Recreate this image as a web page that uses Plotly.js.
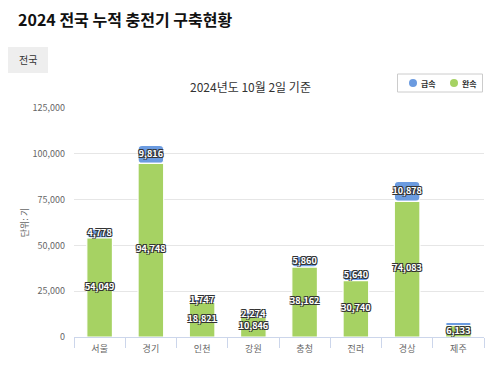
<!DOCTYPE html>
<html>
<head>
<meta charset="utf-8">
<script src="https://cdn.plot.ly/plotly-3.0.1.min.js"></script>
<style>html,body{margin:0;padding:0;background:#fff;}#chart{width:497px;height:381px;}</style>
</head>
<body>
<div id="chart"></div>
<script>
const regions = ['서울', '경기', '인천', '강원', '충청', '전라', '경상', '제주'];
const slowChargers = [54049, 94748, 18821, 10846, 38162, 30740, 74083, 6133];
const fastChargers = [4778, 9816, 1747, 2274, 5860, 5640, 10878, 1900];
const fastLabelShown = [true, true, true, true, true, true, true, false];
const yTicks = [0, 25000, 50000, 75000, 100000, 125000];
const seriesNames = ['급속', '완속'];

const FONT = '"Noto Sans CJK KR", "Noto Sans", sans-serif';
const BLUE = '#6b9be0';
const GREEN = '#a6d263';
const fmt = v => v.toLocaleString('en-US');

const W = 497, H = 381;
const M = {l: 74, r: 13, t: 108, b: 44};
const PW = W - M.l - M.r, PH = H - M.t - M.b;
const px = x => (x - M.l) / PW;
const py = y => (M.t + PH - y) / PH;

const outline = '-1px -1px 0 #333, 1px -1px 0 #333, -1px 1px 0 #333, 1px 1px 0 #333';
const labelFont = {family: FONT, size: 9, color: '#ffffff', shadow: outline, weight: 700};

const traces = [
  {
    type: 'bar', name: seriesNames[0], x: regions, y: fastChargers, base: slowChargers,
    marker: {color: BLUE, line: {color: '#ffffff', width: 1.2}},
    showlegend: false, hoverinfo: 'x+y'
  },
  {
    type: 'bar', name: seriesNames[1], x: regions, y: slowChargers,
    marker: {color: GREEN, line: {color: '#ffffff', width: 1.2}},
    showlegend: false, hoverinfo: 'x+y'
  },
  {
    type: 'scatter', mode: 'text', x: regions,
    y: slowChargers.map(v => v / 2),
    text: slowChargers.map(fmt),
    textfont: labelFont,
    showlegend: false, hoverinfo: 'skip'
  },
  {
    type: 'scatter', mode: 'text', x: regions,
    y: slowChargers.map((v, i) => v + fastChargers[i] / 2),
    text: fastChargers.map((v, i) => fastLabelShown[i] ? fmt(v) : ''),
    textfont: labelFont,
    showlegend: false, hoverinfo: 'skip'
  }
];

function dot(cx, cy, color) {
  return {type: 'circle', xref: 'paper', yref: 'paper', xsizemode: 'pixel', ysizemode: 'pixel',
    xanchor: px(cx), yanchor: py(cy), x0: -4, x1: 4, y0: -4, y1: 4,
    fillcolor: color, line: {width: 0}};
}

const layout = {
  width: W, height: H,
  margin: M,
  paper_bgcolor: '#ffffff', plot_bgcolor: '#ffffff',
  font: {family: FONT, color: '#666666', size: 9},
  barmode: 'overlay',
  bargap: 0.5,
  barcornerradius: 4,
  showlegend: false,
  title: {
    text: '2024 전국 누적 충전기 구축현황',
    x: 18 / W, xanchor: 'left', xref: 'container',
    y: 1 - 20 / H, yanchor: 'middle', yref: 'container',
    font: {family: FONT, size: 16, color: '#111111', weight: 700}
  },
  xaxis: {
    type: 'category', categoryorder: 'array', categoryarray: regions,
    showline: true, linecolor: '#ccd6eb', linewidth: 1,
    ticks: 'outside', tickson: 'boundaries', ticklen: 10, tickcolor: '#ccd6eb',
    tickfont: {size: 9, color: '#666666'},
    ticklabelstandoff: 3,
    showgrid: false, zeroline: false, fixedrange: true
  },
  yaxis: {
    range: [0, 125000], tickvals: yTicks, tickformat: ',d',
    gridcolor: '#e6e6e6', gridwidth: 1, zeroline: false, showline: false,
    tickfont: {size: 9, color: '#666666'},
    ticklabelstandoff: 8,
    title: {text: '단위: 기', font: {size: 9, color: '#666666'}, standoff: 2},
    fixedrange: true
  },
  shapes: [
    {type: 'rect', xref: 'paper', yref: 'paper', x0: px(8), x1: px(48), y0: py(73), y1: py(47),
     fillcolor: '#eeeeee', line: {width: 0}, layer: 'below'},
    {type: 'rect', xref: 'paper', yref: 'paper', x0: px(397.5), x1: px(482.5), y0: py(92), y1: py(74),
     fillcolor: '#ffffff', line: {width: 1, color: '#cccccc'}},
    dot(413, 83, BLUE),
    dot(454, 83, GREEN)
  ],
  annotations: [
    {text: '전국', xref: 'paper', yref: 'paper', x: px(28), y: py(60), xanchor: 'center', yanchor: 'middle',
     showarrow: false, font: {size: 10, color: '#333333'}},
    {text: '2024년도 10월 2일 기준', xref: 'paper', yref: 'paper', x: px(250), y: py(86), xanchor: 'center', yanchor: 'middle',
     showarrow: false, font: {size: 12, color: '#333333'}},
    {text: seriesNames[0], xref: 'paper', yref: 'paper', x: px(419), y: py(83), xanchor: 'left', yanchor: 'middle',
     showarrow: false, font: {size: 8, color: '#333333', weight: 700}},
    {text: seriesNames[1], xref: 'paper', yref: 'paper', x: px(460), y: py(83), xanchor: 'left', yanchor: 'middle',
     showarrow: false, font: {size: 8, color: '#333333', weight: 700}}
  ]
};

Plotly.newPlot('chart', traces, layout, {displayModeBar: false, staticPlot: true});
</script>
</body>
</html>
